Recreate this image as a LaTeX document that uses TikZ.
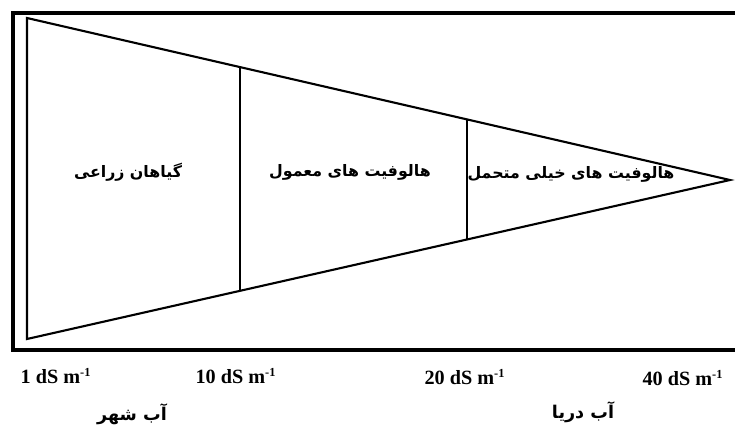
\documentclass[tikz,border=0pt]{standalone}
\usepackage{fontspec}
\setmainfont{Liberation Serif}
\newfontfamily\farsi[Script=Arabic]{DejaVu Sans}
\TeXXeTstate=1
\usepackage{tikz}
\usetikzlibrary{positioning,calc}
\newcommand{\perm}{m\textsuperscript{\fontsize{7}{8}\selectfont -1}}

\begin{document}
\begin{tikzpicture}[
    x=0.02cm, y=-0.02cm,
    frame/.style={line width=2.2pt},
    edge/.style={line width=1.2pt, line join=miter},
    zone/.style={font=\farsi\bfseries\fontsize{9}{11}\selectfont},
    ec/.style={font=\bfseries\fontsize{11.5}{13}\selectfont},
    water/.style={font=\farsi\bfseries\fontsize{10}{12}\selectfont},
  ]
  \useasboundingbox (0,0) rectangle (735,427);

  % outer frame (open on the right)
  \draw[frame] (735,13) -- (13,13) -- (13,350) -- (735,350);

  % wedge
  \coordinate (tl) at (27,18);
  \coordinate (bl) at (27,339);
  \coordinate (tip) at (730,180);
  \draw[edge] (tl) -- (tip) -- (bl) -- cycle;

  % dividers
  \coordinate (d1t) at ($(tl)!0.303!(tip)$);
  \coordinate (d1b) at ($(bl)!0.303!(tip)$);
  \coordinate (d2t) at ($(tl)!0.626!(tip)$);
  \coordinate (d2b) at ($(bl)!0.626!(tip)$);
  \draw[edge] (d1t) -- (d1b);
  \draw[edge] (d2t) -- (d2b);

  % zone labels
  \node[zone] (crops) at (128,172) {\beginR گیاهان زراعی\endR};
  \node[zone] (halo) at (350,172) {\beginR هالوفیت های معمول\endR};
  \node[zone] (xhalo) at (571,174) {\beginR هالوفیت های خیلی متحمل\endR};

  % salinity scale
  \node[ec] (ec1) at (56,376) {1 dS \perm};
  \node[ec] (ec10) at (236,376) {10 dS \perm};
  \node[ec] (ec20) at (465,377) {20 dS \perm};
  \node[ec] (ec40) at (683,378) {40 dS \perm};

  \node[water] (tap) at (132,414) {\beginR آب شهر\endR};
  \node[water] (sea) at (583,412) {\beginR آب دریا\endR};
\end{tikzpicture}
\end{document}
